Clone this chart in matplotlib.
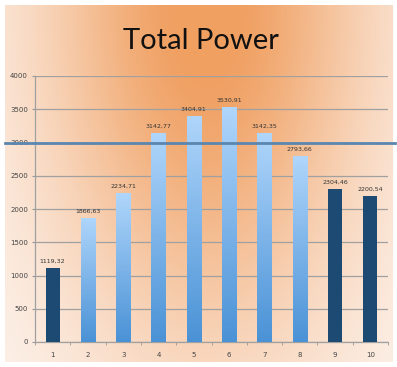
import numpy as np
import matplotlib.pyplot as plt
from matplotlib.colors import LinearSegmentedColormap

# значения мощности по номерам
categories = ['1', '2', '3', '4', '5', '6', '7', '8', '9', '10']
power = [1119.32, 1866.63, 2234.71, 3142.77, 3404.91, 3530.91, 3142.35, 2793.66, 2304.46, 2200.54]
dark_bars = [0, 8, 9]
limit = 3000

W, H = 397, 367
fig = plt.figure(figsize=(W / 100, H / 100), dpi=100)
fig.patch.set_facecolor('white')

# фон: оранжевое пятно сверху, к краям почти белый
bg = fig.add_axes([5 / W, 5 / H, 388 / W, 357 / H])
bg.axis('off')
xx, yy = np.meshgrid(np.linspace(0, 1, 300), np.linspace(0, 1, 300))
w = np.exp(-((xx - 0.52) / 0.42) ** 2 - (yy / 0.95) ** 2)
w = np.clip(w * 1.05, 0, 1)
peak = np.array([240, 160, 98]) / 255
edge = np.array([253, 245, 240]) / 255
img = edge + (peak - edge) * w[..., None]
bg.imshow(img, extent=[0, 1, 0, 1], aspect='auto', origin='upper')
bg.set_xlim(0, 1)
bg.set_ylim(0, 1)

fig.text(0.505, 0.888, 'Total Power', ha='center', va='center',
         fontsize=21, family='Lato', color='#111111')

ax = fig.add_axes([35 / W, 25 / H, 353 / W, 266 / H])
ax.patch.set_alpha(0)
x = np.arange(len(categories))
bars = ax.bar(x, power, width=0.4, color='none', zorder=3)

# голубой градиент для светлых столбиков
blue = LinearSegmentedColormap.from_list('bl', ['#4a92d6', '#b0d6fb'])
grad = np.linspace(0, 1, 256).reshape(-1, 1)
for i, b in enumerate(bars):
    if i in dark_bars:
        b.set_facecolor('#1c4a72')
    else:
        im = ax.imshow(grad, cmap=blue, origin='lower', aspect='auto', zorder=3,
                       extent=[b.get_x(), b.get_x() + b.get_width(), 0, b.get_height()])
        im.set_clip_path(b)
    ax.annotate(f'{power[i]:.2f}'.replace('.', ','), (b.get_x() + b.get_width() / 2, b.get_height()),
                xytext=(0, 3), textcoords='offset points', ha='center', va='bottom',
                fontsize=4.5, color='#333333')

ax.set_xlim(-0.5, len(categories) - 0.5)
ax.set_ylim(0, 4000)
ax.set_yticks(np.arange(0, 4001, 500))
ax.set_xticks(x)
ax.set_xticklabels(categories)
ax.set_xticks(np.arange(-0.5, len(categories)), minor=True)
ax.tick_params(axis='x', which='major', length=0, labelsize=5, colors='#444444', pad=7)
ax.tick_params(axis='x', which='minor', length=2, color='#999999', direction='out')
ax.tick_params(axis='y', length=2, color='#999999', labelsize=5, labelcolor='#444444', pad=3)
ax.grid(axis='y', color='#a0a0a0', linewidth=0.9, zorder=1)
for s in ['top', 'right']:
    ax.spines[s].set_visible(False)
for s in ['left', 'bottom']:
    ax.spines[s].set_color('#a0a0a0')
    ax.spines[s].set_linewidth(0.9)

# линия порога 3000 через всю картинку
ax.axhline(limit, xmin=-0.085, xmax=1.02, color='#5a86b0', linewidth=2.0, clip_on=False, zorder=4)

fig.savefig('out.png', dpi=100)
